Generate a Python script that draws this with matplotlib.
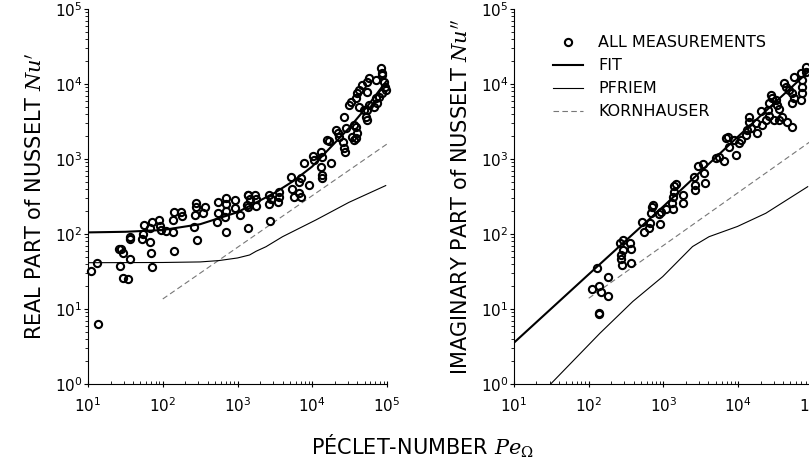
import numpy as np
import matplotlib
matplotlib.use("Agg")
import matplotlib.pyplot as plt
from matplotlib.ticker import LogLocator, NullFormatter

plt.rcParams["font.family"] = ["DejaVu Sans"]
plt.rcParams["mathtext.fontset"] = "dejavuserif"

# ---- measurements, real part ----
pe_real = [11, 13, 13.7, 26, 28, 29, 27, 29, 34, 37, 36, 36, 52, 55, 56, 67, 69, 71,
           67, 71, 89, 91, 94, 110, 135, 142, 135, 142, 177, 183, 261, 275, 281, 287,
           267, 344, 363, 530, 546, 546, 692, 706, 692, 678, 706, 912, 912, 1080,
           1370, 1370, 1370, 2730,
           1370, 1450, 1690, 1770, 1330, 1770, 2670, 2810, 2670, 3560, 3630, 3450,
           5360, 5760, 7060, 6710, 5200, 7060, 6710, 9120, 7830, 10300, 10600, 13100,
           13500, 13100, 13700, 13500, 17700, 15500, 16900, 20700, 21800, 22900,
           28100, 26700, 25400, 26700, 27500, 34500, 36300, 39000, 40200, 38200,
           31100, 32800, 38200, 40200, 42400, 46900, 54700, 57500, 42400, 49300,
           54700, 70600, 82400, 84900, 86700, 91200, 94000, 96000, 86700, 78200,
           70600, 74300, 67100, 57500, 54700, 52000, 54700, 36300]
nu_real = [32, 41, 6.3, 64, 63, 55, 37, 26, 25, 46, 90, 85, 85, 99, 132, 79, 56, 36,
           119, 143, 154, 129, 113, 110, 105, 60, 154, 199, 199, 175, 123, 256, 231, 83,
           179, 189, 231, 146, 192, 270, 299, 249, 205, 170, 107, 284, 220, 177,
           331, 231, 119, 149,
           330, 290, 330, 290, 244, 236, 330, 290, 250, 366, 315, 270,
           394, 315, 315, 348, 581, 552, 499, 450, 875, 1100, 970, 1250,
           1070, 790, 612, 552, 875, 1790, 1750, 2440, 2200, 1950,
           2560, 3660, 1700, 1390, 1250, 1950, 2840, 2700, 2200, 1880,
           5250, 5810, 6440, 7520, 8320, 9700, 10700, 11900, 4990, 4500,
           7910, 11300, 16200, 14200, 13200, 10700, 9200, 8320, 7520, 6780,
           6440, 5520, 4990, 5250, 4500, 3660, 3310, 1790]

# ---- measurements, imaginary part ----
pe_imag = [130, 181, 111, 137, 148, 181, 136, 136, 259, 287, 352, 363, 287, 267, 267,
           278, 363, 514, 557, 650, 664, 912, 684, 705, 720, 883, 930, 1080, 1330,
           1300, 1330, 1400, 1400, 1450, 1810, 1810,
           2590, 2870, 3410, 3520, 2670, 2670, 3630, 5040, 5570, 6500, 9300, 6840,
           7200, 7580, 8830, 10300, 10800, 12600, 13300, 14000, 14000, 14700, 18100,
           17200, 20000, 21100, 23400, 25900, 25300, 25900, 27200, 28600, 31700,
           33400, 35200, 35200, 30200, 39000, 45400, 53000, 41000, 43200, 47800,
           53000, 55700, 55700, 53000, 68400, 72000, 72000, 70700, 79800, 81500, 68400]
nu_imag = [35, 27, 18.5, 20, 17, 14.9, 8.8, 8.5, 77, 83, 75, 63, 61, 52, 46,
           38.5, 40.6, 143, 107, 119, 139, 136, 188, 226, 243, 185, 198, 213, 213,
           256, 315, 366, 436, 459, 331, 256,
           581, 808, 857, 644, 386, 450, 474, 1020, 1050, 950, 1130, 1890,
           1990, 1460, 1790, 1620, 1790, 2090, 2440, 3150, 3660, 2560, 2200,
           2990, 4420, 2840, 3310, 3750, 4510, 5520, 7140, 6440, 6120,
           5250, 4590, 3310, 3310, 3590, 3150, 2640, 10200, 9220, 8320,
           7520, 12500, 6440, 5520, 13900, 11300, 9220, 7520, 17000, 14600, 6120]

# ---- curves ----
pe_fit_real = [10, 31.6, 100, 316, 1000, 3160, 5620, 10000, 17800, 31600, 56200, 100000]
nu_fit_real = [105, 107, 113, 135, 195, 355, 510, 795, 1450, 2630, 5250, 11200]
pe_pfr_real = [10, 100, 316, 562, 1000, 1450, 1780, 2400, 4000, 11200, 30900, 96000]
nu_pfr_real = [41.4, 41.7, 42.4, 44.2, 47.9, 52.5, 59, 67.6, 92, 154, 264, 442]
pe_kor_real = [100, 100000]
nu_kor_real = [13.6, 1585]

pe_fit_imag = [10, 100, 1000, 10000, 100000]
nu_fit_imag = [3.55, 29, 234, 2000, 16600]
pe_pfr_imag = [31, 141, 389, 977, 2450, 4070, 9770, 23400, 85000]
nu_pfr_imag = [1.0, 4.74, 12.6, 27, 68, 92, 126, 189, 427]
pe_kor_imag = [100, 100000]
nu_kor_imag = [13.9, 1810]

fig = plt.figure(figsize=(8.09, 4.65), dpi=100, facecolor="white")
ax1 = fig.add_axes([0.1088, 0.1742, 0.3696, 0.8065])
ax2 = fig.add_axes([0.6353, 0.1742, 0.3696, 0.8065])

meas = dict(ls="none", marker="o", mfc="none", mec="black", mew=1.5, ms=5.2)
fit = dict(color="black", lw=1.5)
pfr = dict(color="black", lw=0.8)
kor = dict(color="#777777", lw=0.8, ls=(0, (5, 3)))

ax1.plot(pe_kor_real, nu_kor_real, **kor)
ax1.plot(pe_pfr_real, nu_pfr_real, **pfr)
ax1.plot(pe_fit_real, nu_fit_real, **fit)
ax1.plot(pe_real, nu_real, clip_on=False, **meas)

ax2.plot(pe_kor_imag, nu_kor_imag, label="KORNHAUSER", **kor)
ax2.plot(pe_pfr_imag, nu_pfr_imag, label="PFRIEM", **pfr)
ax2.plot(pe_fit_imag, nu_fit_imag, label="FIT", **fit)
ax2.plot(pe_imag, nu_imag, label="ALL MEASUREMENTS", **meas)

for ax in (ax1, ax2):
    ax.set_xscale("log")
    ax.set_yscale("log")
    ax.set_xlim(10, 1e5)
    ax.set_ylim(1, 1e5)
    ax.spines["top"].set_visible(False)
    ax.spines["right"].set_visible(False)
    for s in ("left", "bottom"):
        ax.spines[s].set_linewidth(0.8)
    ax.set_xticks([1e1, 1e2, 1e3, 1e4, 1e5])
    ax.set_yticks([1e0, 1e1, 1e2, 1e3, 1e4, 1e5])
    for axis in (ax.xaxis, ax.yaxis):
        axis.set_minor_locator(LogLocator(base=10, subs=np.arange(2, 10), numticks=50))
        axis.set_minor_formatter(NullFormatter())
    ax.tick_params(axis="x", which="major", direction="inout", length=5, width=0.8,
                   labelsize=11, pad=6)
    ax.tick_params(axis="x", which="minor", direction="in", length=2.5, width=0.6)
    ax.tick_params(axis="y", which="major", direction="out", length=3, width=0.8,
                   labelsize=11, pad=1)
    ax.tick_params(axis="y", which="minor", direction="out", length=2, width=0.6)

ax1.set_ylabel("REAL PART of NUSSELT $Nu'$", fontsize=15, labelpad=6)
ax2.set_ylabel("IMAGINARY PART of NUSSELT $Nu''$", fontsize=15, labelpad=6)
fig.text(0.522, 0.04, r"PÉCLET-NUMBER $Pe_\Omega$", ha="center", va="center", fontsize=15)

h, l = ax2.get_legend_handles_labels()
order = [3, 2, 1, 0]
ax2.legend([h[i] for i in order], [l[i] for i in order], loc="upper left",
           bbox_to_anchor=(0.13, 0.93), frameon=False, fontsize=11.5,
           handlelength=1.9, handletextpad=0.95, labelspacing=0.5, borderaxespad=0,
           borderpad=0)

fig.savefig("out.png", dpi=100, facecolor="white")
